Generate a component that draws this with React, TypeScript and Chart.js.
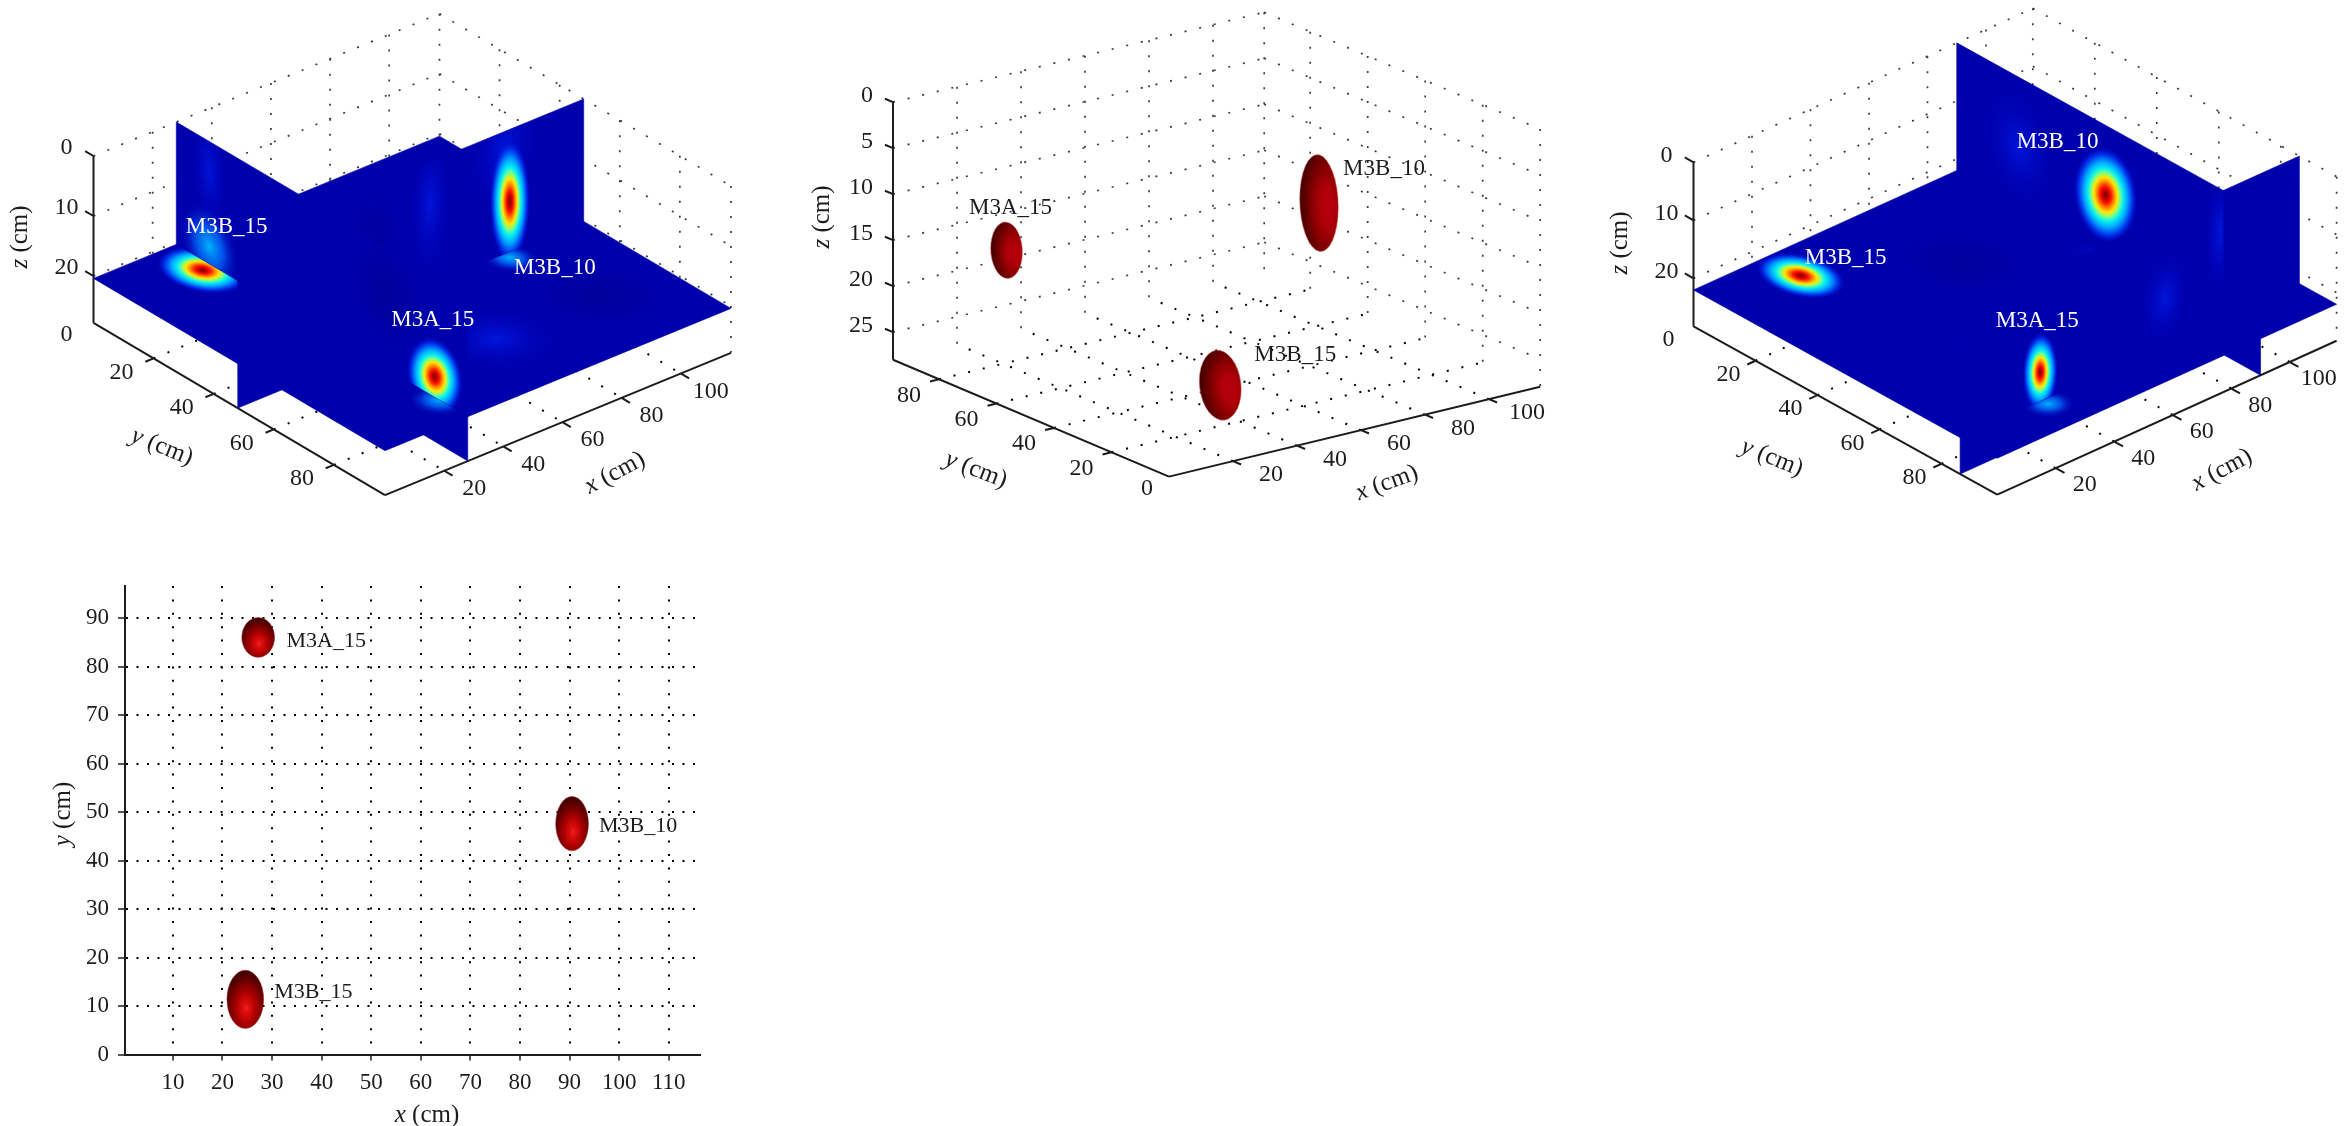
import React, { useEffect, useRef } from "react";
import { Chart, registerables } from "chart.js";

Chart.register(...registerables);

const FONT = '"Liberation Serif"';
const INK = "#1c1c1c";
const BLUE = "#0000ac";

// ---- values
const xTicks3D = [20, 40, 60, 80, 100];
const yTicks3D = [20, 40, 60, 80];
const zTicksCoarse = [0, 10, 20];
const zTicksFine = [0, 5, 10, 15, 20, 25];
const xTicksTop = [10, 20, 30, 40, 50, 60, 70, 80, 90, 100, 110];
const yTicksTop = [0, 10, 20, 30, 40, 50, 60, 70, 80, 90];

// inclusions in the iso-surface view: name, x, y, z, semi-axes
const isoNames = ["M3B_10", "M3A_15", "M3B_15"];
const isoX = [90, 25.6, 25];
const isoY = [48, 85, 10];
const isoZ = [12.2, 16.8, 21.5];
const isoRx = [3.3, 3.3, 3.7];
const isoRy = [5.6, 4.1, 6];
const isoRz = [5.2, 3.0, 3.7];

// inclusions in the top view
const topX = [90.5, 27.2, 24.6];
const topY = [47.6, 86, 11.4];
const topRx = [3.3, 3.3, 3.7];
const topRy = [5.6, 4.1, 6];

// heat patches on the slices: plane, u, v, radius u, radius v, kind, skew
type Patch = [string, number, number, number, number, string, number?];
const leftSlices = { x: 28, y: 48, z: 20.4 };
const leftPatches: Patch[] = [
  ["Y", 65, 7, 7, 12, "g"],
  ["Y", 45, 12, 10, 12, "d"],
  ["Z", 39.5, 30, 6, 16, "g"],
  ["Z", 70, 30, 12, 14, "d"],
  ["Z", 60, 75, 16, 14, "g"],
  ["Z", 95, 75, 16, 14, "d"],
  ["X", 11, 5, 6, 10, "g"],
  ["X", 70, 8, 12, 9, "d"],
  ["Y", 90, 3, 12, 10, "g"],
  ["X", 11, 17.5, 10, 7, "w"],
  ["Z", 28, 87.6, 8, 7, "w"],
  ["Z", 90, 50, 7, 7, "w"],
  ["Z", 24.6, 12.1, 10.5, 11.5, "s"],
  ["X", 86, 17, 9.5, 6.6, "s", -1.6],
  ["Y", 92, 12, 7, 10.5, "s", 1.2],
];
const rightSlices = { x: 90, y: 86, z: 22 };
const rightPatches: Patch[] = [
  ["Y", 89, 7, 6, 11, "g"],
  ["Z", 34.8, 61, 5, 10, "g"],
  ["Z", 85, 58, 7, 11, "g"],
  ["Y", 70, 14, 9, 8, "g"],
  ["Z", 60, 30, 14, 14, "d"],
  ["X", 20, 12, 12, 10, "g"],
  ["Z", 28, 88, 7, 6, "w"],
  ["Z", 88, 48, 7, 7, "g"],
  ["Z", 25, 11, 9.5, 11.5, "s"],
  ["X", 48, 12, 10.5, 8.4, "s", -2],
  ["Y", 27.4, 17, 6.2, 7, "s", 1],
];

// ---- view definitions
type View = {
  left: number; width: number; height: number;
  O: [number, number]; ex: [number, number]; ey: [number, number]; ez: number;
  xMax: number; yMax: number; zMax: number; wallY: number; zTicks: number[];
  xLab: [number, number]; yLab: [number, number]; zLab: [number, number]; yZero: [number, number];
  zAlignRight?: boolean;
  titles: { t: string; x: number; y: number; r: number }[];
};

const viewLeft: View = {
  left: 0, width: 780, height: 520,
  O: [93.5, 156], ex: [2.957, -1.216], ey: [3.005, 1.776], ez: 6.0,
  xMax: 117, yMax: 97, zMax: 27.8, wallY: 0, zTicks: zTicksCoarse,
  xLab: [30, 18], yLab: [-32, 14], zLab: [-27, -8], yZero: [-27, 12],
  titles: [
    { t: "x", x: 615, y: 473, r: -28 },
    { t: "y", x: 162, y: 447, r: 22 },
    { t: "z", x: 20, y: 237, r: -90 },
  ],
};
const viewMid: View = {
  left: 780, width: 790, height: 520,
  O: [389, 219], ex: [3.2, -0.775], ey: [-2.875, -1.217], ez: 9.2,
  xMax: 116, yMax: 96, zMax: 28, wallY: 96, zTicks: zTicksFine,
  xLab: [38, 14], yLab: [-30, 16], zLab: [-20, -6], yZero: [-22, 12], zAlignRight: true,
  titles: [
    { t: "x", x: 607, y: 483, r: -20 },
    { t: "y", x: 196, y: 470, r: 21 },
    { t: "z", x: 42, y: 217, r: -90 },
  ],
};
const viewRight: View = {
  left: 1570, width: 779, height: 520,
  O: [123.5, 162.3], ex: [2.925, -1.327], ey: [3.1, 1.717], ez: 5.8,
  xMax: 116, yMax: 98, zMax: 28.3, wallY: 0, zTicks: zTicksCoarse,
  xLab: [29, 17], yLab: [-27, 14], zLab: [-27, -7], yZero: [-25, 13],
  titles: [
    { t: "x", x: 652, y: 470, r: -28 },
    { t: "y", x: 202, y: 458, r: 22 },
    { t: "z", x: 50, y: 243, r: -90 },
  ],
};

const leftLabelOffsets: Record<string, [number, number]> = { M3B_15: [24, -43], M3B_10: [45, 67], M3A_15: [-2, -57] };
const rightLabelOffsets: Record<string, [number, number]> = { M3B_15: [45, -18], M3B_10: [-48, -53], M3A_15: [-3, -51] };
const midLabelOffsets: Record<string, [number, number]> = { M3B_15: [75, -30], M3B_10: [65, -34], M3A_15: [4, -42] };
const topLabelOffsets: Record<string, [number, number]> = { M3B_15: [68, -7], M3B_10: [66, 3], M3A_15: [68, 4] };

// ---- helpers
const proj = (v: View, x: number, y: number, z: number) => ({
  x: v.O[0] + x * v.ex[0] + y * v.ey[0],
  y: v.O[1] + x * v.ex[1] + y * v.ey[1] + z * v.ez,
});

function wallPoints(v: View) {
  const out: any[] = [];
  const seg = (a: number[], b: number[]) => {
    out.push(proj(v, a[0], a[1], a[2]), proj(v, b[0], b[1], b[2]), { x: NaN, y: NaN });
  };
  const otherY = v.wallY === 0 ? v.yMax : 0;
  v.zTicks.forEach((z) => {
    seg([0, v.wallY, z], [v.xMax, v.wallY, z]);
    seg([v.xMax, v.wallY, z], [v.xMax, otherY, z]);
  });
  [...xTicks3D, v.xMax].forEach((x) => seg([x, v.wallY, 0], [x, v.wallY, v.zMax]));
  [...yTicks3D, otherY].forEach((y) => seg([v.xMax, y, 0], [v.xMax, y, v.zMax]));
  return out;
}

function floorPoints(v: View) {
  const out: any[] = [];
  const seg = (a: number[], b: number[]) => {
    out.push(proj(v, a[0], a[1], a[2]), proj(v, b[0], b[1], b[2]), { x: NaN, y: NaN });
  };
  xTicks3D.forEach((x) => seg([x, 0, v.zMax], [x, v.yMax, v.zMax]));
  yTicks3D.forEach((y) => seg([0, y, v.zMax], [v.xMax, y, v.zMax]));
  return out;
}

function axisPoints(v: View) {
  const out: any[] = [];
  const seg = (a: number[], b: number[]) => {
    out.push(proj(v, a[0], a[1], a[2]), proj(v, b[0], b[1], b[2]), { x: NaN, y: NaN });
  };
  const axisY = v.wallY === 0 ? v.yMax : 0;
  const out1 = v.wallY === 0 ? 1 : -1;
  const T = 2.8;
  seg([0, 0, v.zMax], [0, v.yMax, v.zMax]);
  seg([0, axisY, v.zMax], [v.xMax, axisY, v.zMax]);
  seg([0, v.wallY, 0], [0, v.wallY, v.zMax]);
  xTicks3D.forEach((x) => seg([x, axisY, v.zMax], [x, axisY + out1 * T, v.zMax]));
  yTicks3D.forEach((y) => seg([0, y, v.zMax], [-T, y, v.zMax]));
  v.zTicks.forEach((z) => seg([0, v.wallY, z], [0, v.wallY - out1 * T, z]));
  return out;
}

function stopsFor(kind: string): [number, string][] {
  if (kind === "s")
    return [
      [0, "#7c0000"], [0.08, "#b80000"], [0.17, "#ff1200"], [0.27, "#ff8a00"], [0.36, "#ffe600"],
      [0.45, "#7dff82"], [0.54, "#08f0f0"], [0.67, "#00a4ff"], [0.83, "rgba(0,50,240,0.9)"], [1, "rgba(0,0,180,0)"],
    ];
  if (kind === "w")
    return [[0, "rgba(0,190,255,0.95)"], [0.45, "rgba(0,110,255,0.75)"], [1, "rgba(0,0,180,0)"]];
  if (kind === "d")
    return [[0, "rgba(0,0,120,0.35)"], [1, "rgba(0,0,120,0)"]];
  return [[0, "rgba(0,40,255,0.55)"], [1, "rgba(0,0,200,0)"]];
}

function drawText(ctx: CanvasRenderingContext2D, s: string, x: number, y: number, color: string, size = 24, align: CanvasTextAlign = "center") {
  ctx.font = `${size}px ${FONT}`;
  ctx.fillStyle = color;
  ctx.textAlign = align;
  ctx.textBaseline = "middle";
  ctx.fillText(s, x, y);
}

function drawTitle(ctx: CanvasRenderingContext2D, letter: string, cx: number, cy: number, deg: number) {
  ctx.save();
  ctx.translate(cx, cy);
  ctx.rotate((deg * Math.PI) / 180);
  const rest = " (cm)";
  const size = 25;
  ctx.font = `italic ${size}px ${FONT}`;
  const a = ctx.measureText(letter).width;
  ctx.font = `${size}px ${FONT}`;
  const b = ctx.measureText(rest).width;
  ctx.textAlign = "left";
  ctx.textBaseline = "middle";
  ctx.fillStyle = INK;
  ctx.font = `italic ${size}px ${FONT}`;
  ctx.fillText(letter, -(a + b) / 2, 0);
  ctx.font = `${size}px ${FONT}`;
  ctx.fillText(rest, -(a + b) / 2 + a, 0);
  ctx.restore();
}

function drawSolid(ctx: CanvasRenderingContext2D, cx: number, cy: number, axes: [number, number][], gx: number, gy: number, gr: number, stops: [number, string][], edge: string) {
  let a = 0, b = 0, c = 0;
  axes.forEach(([u, w]) => { a += u * u; b += u * w; c += w * w; });
  const l11 = Math.sqrt(a);
  const l21 = b / l11;
  const l22 = Math.sqrt(Math.max(c - l21 * l21, 1));
  ctx.save();
  ctx.transform(l11, l21, 0, l22, cx, cy);
  const g = ctx.createRadialGradient(gx, gy, 0, gx, gy, gr);
  stops.forEach(([t, col]) => g.addColorStop(t, col));
  ctx.beginPath();
  ctx.arc(0, 0, 1, 0, Math.PI * 2);
  ctx.fillStyle = g;
  ctx.fill();
  ctx.restore();
  ctx.save();
  ctx.transform(l11, l21, 0, l22, cx, cy);
  ctx.beginPath();
  ctx.arc(0, 0, 1, 0, Math.PI * 2);
  ctx.restore();
  ctx.strokeStyle = edge;
  ctx.lineWidth = 1;
  ctx.stroke();
}

function axisLabels(ctx: CanvasRenderingContext2D, v: View, sx: (n: number) => number, sy: (n: number) => number) {
  const axisY = v.wallY === 0 ? v.yMax : 0;
  xTicks3D.forEach((x) => {
    const p = proj(v, x, axisY, v.zMax);
    drawText(ctx, String(x), sx(p.x) + v.xLab[0], sy(p.y) + v.xLab[1], INK);
  });
  yTicks3D.forEach((y) => {
    const p = proj(v, 0, y, v.zMax);
    drawText(ctx, String(y), sx(p.x) + v.yLab[0], sy(p.y) + v.yLab[1], INK);
  });
  const p0 = proj(v, 0, 0, v.zMax);
  drawText(ctx, "0", sx(p0.x) + v.yZero[0], sy(p0.y) + v.yZero[1], INK);
  v.zTicks.forEach((z) => {
    const p = proj(v, 0, v.wallY, z);
    drawText(ctx, String(z), sx(p.x) + v.zLab[0], sy(p.y) + v.zLab[1], INK, 24, v.zAlignRight ? "right" : "center");
  });
  v.titles.forEach((t) => drawTitle(ctx, t.t, sx(t.x), sy(t.y), t.r));
}

function slicePlugin(v: View, s: { x: number; y: number; z: number }, patches: Patch[], offsets: Record<string, [number, number]>, labelAt: Record<string, [string, number, number]>) {
  return {
    id: "slices",
    afterDatasetsDraw(chart: any) {
      const ctx: CanvasRenderingContext2D = chart.ctx;
      const sx = (n: number) => chart.scales.x.getPixelForValue(n);
      const sy = (n: number) => chart.scales.y.getPixelForValue(n);
      const pt = (a: number[]) => { const p = proj(v, a[0], a[1], a[2]); return [sx(p.x), sy(p.y)]; };
      const where = (plane: string, u: number, w: number) =>
        plane === "Z" ? [u, w, s.z] : plane === "X" ? [s.x, u, w] : [u, s.y, w];
      const piece = (plane: string, u0: number, u1: number, w0: number, w1: number) => {
        const poly = [where(plane, u0, w0), where(plane, u1, w0), where(plane, u1, w1), where(plane, u0, w1)].map(pt);
        const path = () => {
          ctx.beginPath();
          poly.forEach((q, i) => (i ? ctx.lineTo(q[0], q[1]) : ctx.moveTo(q[0], q[1])));
          ctx.closePath();
        };
        ctx.save();
        path();
        ctx.fillStyle = BLUE;
        ctx.strokeStyle = BLUE;
        ctx.lineWidth = 0.6;
        ctx.fill();
        ctx.stroke();
        path();
        ctx.clip();
        patches.filter((p) => p[0] === plane).forEach((p) => {
          const c = pt(where(plane, p[1], p[2]));
          const a = pt(where(plane, p[1] + p[3], p[2] + (p[6] || 0)));
          const b = pt(where(plane, p[1], p[2] + p[4]));
          ctx.save();
          ctx.transform(a[0] - c[0], a[1] - c[1], b[0] - c[0], b[1] - c[1], c[0], c[1]);
          const g = ctx.createRadialGradient(0, 0, 0, 0, 0, 1);
          stopsFor(p[5]).forEach(([t, col]) => g.addColorStop(t, col));
          ctx.fillStyle = g;
          ctx.beginPath();
          ctx.arc(0, 0, 1, 0, Math.PI * 2);
          ctx.fill();
          ctx.restore();
        });
        ctx.restore();
      };
      piece("Y", s.x, v.xMax, s.z, v.zMax);
      piece("X", 0, v.yMax, s.z, v.zMax);
      piece("Y", 0, s.x, s.z, v.zMax);
      piece("Z", 0, v.xMax, 0, v.yMax);
      piece("Y", s.x, v.xMax, 0, s.z);
      piece("X", 0, v.yMax, 0, s.z);
      piece("Y", 0, s.x, 0, s.z);
      Object.keys(labelAt).forEach((name) => {
        const [pl, u, w] = labelAt[name];
        const c = pt(where(pl, u, w));
        drawText(ctx, name, c[0] + offsets[name][0], c[1] + offsets[name][1], "#ffffff", 23);
      });
      axisLabels(ctx, v, sx, sy);
    },
  };
}

const isoPlugin = {
  id: "iso",
  afterDatasetsDraw(chart: any) {
    const ctx: CanvasRenderingContext2D = chart.ctx;
    const v = viewMid;
    const sx = (n: number) => chart.scales.x.getPixelForValue(n);
    const sy = (n: number) => chart.scales.y.getPixelForValue(n);
    isoNames.forEach((name, i) => {
      const p = proj(v, isoX[i], isoY[i], isoZ[i]);
      const cx = sx(p.x), cy = sy(p.y);
      drawSolid(
        ctx, cx, cy,
        [
          [v.ex[0] * isoRx[i], v.ex[1] * isoRx[i]],
          [v.ey[0] * isoRy[i], v.ey[1] * isoRy[i]],
          [0, v.ez * isoRz[i]],
        ],
        0.45, 0.05, 1.45,
        [[0, "#b8000c"], [0.3, "#ac0008"], [0.62, "#7c0000"], [1, "#3e0000"]],
        "rgba(215,90,90,0.55)"
      );
      drawText(ctx, name, cx + midLabelOffsets[name][0], cy + midLabelOffsets[name][1], INK, 23);
    });
    axisLabels(ctx, v, sx, sy);
  },
};

const topPlugin = {
  id: "top",
  afterDatasetsDraw(chart: any) {
    const ctx: CanvasRenderingContext2D = chart.ctx;
    const X = chart.scales.x, Y = chart.scales.y;
    const kx = X.getPixelForValue(1) - X.getPixelForValue(0);
    const ky = Y.getPixelForValue(0) - Y.getPixelForValue(1);
    isoNames.forEach((name, i) => {
      const cx = X.getPixelForValue(topX[i]), cy = Y.getPixelForValue(topY[i]);
      drawSolid(
        ctx, cx, cy,
        [[kx * topRx[i], 0], [0, ky * topRy[i]]],
        0.05, 0.3, 1.3,
        [[0, "#f02c2c"], [0.07, "#e81212"], [0.4, "#b00000"], [0.75, "#660000"], [1, "#3a0000"]],
        "rgba(170,40,40,0.5)"
      );
      drawText(ctx, name, cx + topLabelOffsets[name][0], cy + topLabelOffsets[name][1], INK, 22);
    });
    drawTitle(ctx, "x", 427, 555, 0);
    drawTitle(ctx, "y", 63, 254, -90);
  },
};

function viewConfig(v: View, plugin: any) {
  return {
    type: "line",
    data: {
      datasets: [
        { data: axisPoints(v), borderColor: INK, borderWidth: 2, pointRadius: 0, tension: 0, fill: false },
        { data: floorPoints(v), borderColor: "#000", borderWidth: 2, borderDash: [2, 13], pointRadius: 0, tension: 0, fill: false },
        { data: wallPoints(v), borderColor: "#3a3a3a", borderWidth: 1.7, borderDash: [2, 13], pointRadius: 0, tension: 0, fill: false },
      ],
    },
    options: {
      animation: false, responsive: false, maintainAspectRatio: false,
      layout: { padding: 0 },
      plugins: { legend: { display: false }, tooltip: { enabled: false } },
      events: [],
      scales: {
        x: { type: "linear", display: false, min: 0, max: v.width },
        y: { type: "linear", display: false, min: 0, max: v.height, reverse: true },
      },
    },
    plugins: [plugin],
  } as any;
}

const topConfig = () =>
  ({
    type: "scatter",
    data: {
      datasets: [{ data: topX.map((x, i) => ({ x, y: topY[i] })), pointRadius: 0 }],
    },
    options: {
      animation: false, responsive: false, maintainAspectRatio: false,
      layout: { padding: { left: 0, top: 26, right: 130.5, bottom: 0 } },
      plugins: { legend: { display: false }, tooltip: { enabled: false } },
      events: [],
      scales: {
        x: {
          type: "linear", min: 0.34, max: 116.2,
          afterBuildTicks: (s: any) => { s.ticks = xTicksTop.map((value) => ({ value })); },
          afterFit: (s: any) => { s.height = 71.4; },
          border: { display: true, color: INK, width: 2, dash: [2, 11.4] },
          grid: { color: "#000", lineWidth: 2, drawTicks: true, tickLength: 6, tickColor: INK, tickWidth: 1.5 },
          ticks: { autoSkip: false, maxRotation: 0, color: INK, padding: 9, font: { family: FONT, size: 23 } },
        },
        y: {
          type: "linear", min: 0, max: 96.6,
          afterBuildTicks: (s: any) => { s.ticks = yTicksTop.map((value) => ({ value })); },
          afterFit: (s: any) => { s.width = 125; },
          border: { display: true, color: INK, width: 2, dash: [2, 8.5] },
          grid: {
            color: (c: any) => (c.tick && c.tick.value === 0 ? "rgba(0,0,0,0)" : "#000"),
            lineWidth: 2, drawTicks: true, tickLength: 7, tickColor: INK, tickWidth: 1.5,
          },
          ticks: { autoSkip: false, color: INK, padding: 9, font: { family: FONT, size: 23 } },
        },
      },
    },
    plugins: [topPlugin],
  } as any);

const leftLabels: Record<string, [string, number, number]> = {
  M3B_15: ["Z", 24.6, 12.1], M3B_10: ["Y", 92, 12], M3A_15: ["X", 86, 17],
};
const rightLabels: Record<string, [string, number, number]> = {
  M3B_15: ["Z", 25, 11], M3B_10: ["X", 48, 12], M3A_15: ["Y", 27.4, 17],
};

export default function App() {
  const a = useRef<HTMLCanvasElement>(null);
  const b = useRef<HTMLCanvasElement>(null);
  const c = useRef<HTMLCanvasElement>(null);
  const d = useRef<HTMLCanvasElement>(null);

  useEffect(() => {
    const charts = [
      new Chart(a.current!, viewConfig(viewLeft, slicePlugin(viewLeft, leftSlices, leftPatches, leftLabelOffsets, leftLabels))),
      new Chart(b.current!, viewConfig(viewMid, isoPlugin)),
      new Chart(c.current!, viewConfig(viewRight, slicePlugin(viewRight, rightSlices, rightPatches, rightLabelOffsets, rightLabels))),
      new Chart(d.current!, topConfig()),
    ];
    return () => charts.forEach((ch) => ch.destroy());
  }, []);

  const box = (left: number, top: number): React.CSSProperties => ({ position: "absolute", left, top, display: "block" });
  return (
    <div style={{ position: "fixed", left: 0, top: 0, width: 2349, height: 1126, background: "#fff", overflow: "hidden" }}>
      <canvas ref={a} width={viewLeft.width} height={viewLeft.height} style={box(viewLeft.left, 0)} />
      <canvas ref={b} width={viewMid.width} height={viewMid.height} style={box(viewMid.left, 0)} />
      <canvas ref={c} width={viewRight.width} height={viewRight.height} style={box(viewRight.left, 0)} />
      <canvas ref={d} width={830} height={566} style={box(0, 560)} />
    </div>
  );
}
